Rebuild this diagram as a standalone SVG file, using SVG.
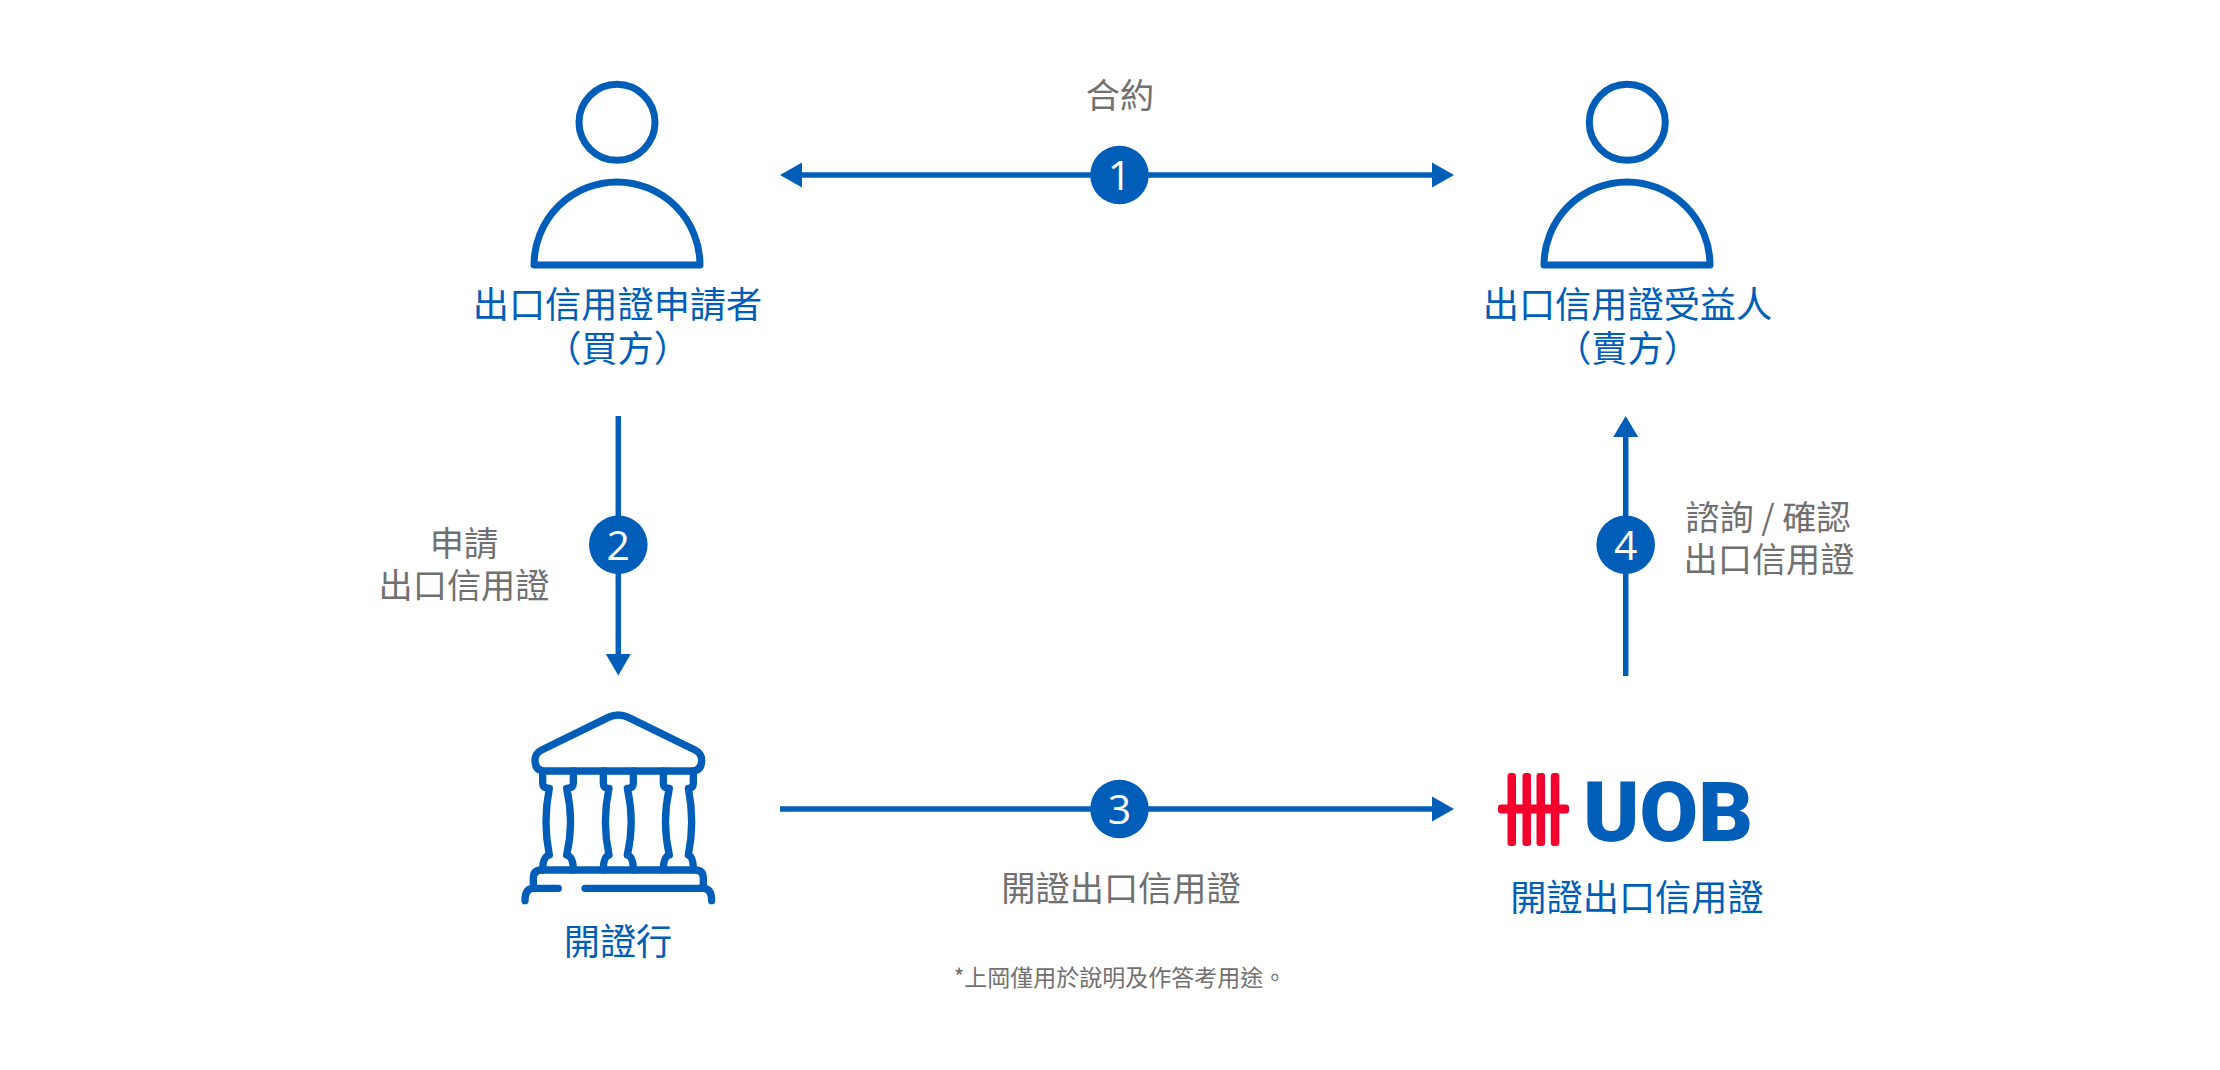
<svg xmlns="http://www.w3.org/2000/svg" width="2220" height="1070" viewBox="0 0 2220 1070">
<style>
text{font-family:"Noto Sans CJK TC","Noto Sans",sans-serif;text-anchor:middle;font-weight:400}
.b{fill:#005eb8;font-size:36.2px}
.g{fill:#707070;font-size:34.2px}
.n{fill:#fff;font-size:41px;font-family:"Open Sans","Noto Sans",sans-serif}
.i{fill:none;stroke:#005eb8;stroke-width:7;stroke-linejoin:round}
.c{fill:none;stroke:#005eb8;stroke-width:22;stroke-linecap:round;stroke-linejoin:round}
.l{stroke:#005eb8;stroke-width:5.5}
.o{fill:#005eb8}
.r{fill:#f5002d}
</style>
<rect width="2220" height="1070" fill="#fff"/>
<g id="connectors">
<line class="l" x1="795" y1="175" x2="1440" y2="175"/>
<polygon class="o" points="780,175 802,162.5 802,187.5"/>
<polygon class="o" points="1454,175 1432,162.5 1432,187.5"/>
<line class="l" x1="618.3" y1="416" x2="618.3" y2="660"/>
<polygon class="o" points="618.3,675.5 605.8,654 630.8,654"/>
<line class="l" x1="780" y1="809" x2="1440" y2="809"/>
<polygon class="o" points="1454,809 1432,796.5 1432,821.5"/>
<line class="l" x1="1625.7" y1="430" x2="1625.7" y2="676"/>
<polygon class="o" points="1625.7,416 1613.2,437 1638.2,437"/>
</g>
<g id="step1"><circle class="o" cx="1119.5" cy="175" r="29.3"/><text class="n" x="1119.5" y="190">1</text></g>
<g id="step2"><circle class="o" cx="618.3" cy="544.7" r="29.3"/><text class="n" x="618.3" y="559.5">2</text></g>
<g id="step3"><circle class="o" cx="1119.5" cy="809" r="29.3"/><text class="n" x="1119.5" y="824">3</text></g>
<g id="step4"><circle class="o" cx="1625.7" cy="544.7" r="29.3"/><text class="n" x="1625.7" y="559.5">4</text></g>
<g id="applicant">
<circle class="i" cx="617" cy="122.3" r="38"/>
<path class="i" d="M534 265A83 83 0 0 1 700 265Z"/>
<text class="b" x="617.5" y="318">出口信用證申請者</text>
<text class="b" x="617.5" y="362">（買方）</text>
</g>
<g id="beneficiary">
<circle class="i" cx="1627.3" cy="122.3" r="38"/>
<path class="i" d="M1544 265A83 83 0 0 1 1710 265Z"/>
<text class="b" x="1627.5" y="318">出口信用證受益人</text>
<text class="b" x="1627.5" y="362">（賣方）</text>
</g>
<g id="issuing-bank">
<g transform="translate(500 690) scale(.33333)">
<path class="c" d="M135 243Q105 243 105 210Q105 190 125 180L325 82Q355 68 385 82L585 180Q605 190 605 210Q605 243 575 243Z"/>
<path class="c" d="M128 243V280Q128 295 148 295C135 360 135 430 148 495Q128 500 128 540"/>
<path class="c" d="M220 243V280Q220 295 200 295C215 360 215 430 200 495Q220 500 220 540"/>
<path class="c" d="M310 243V280Q310 295 327 295C313 360 313 430 327 495Q310 500 310 540"/>
<path class="c" d="M400 243V280Q400 295 382 295C397 360 397 430 382 495Q400 500 400 540"/>
<path class="c" d="M490 243V280Q490 295 508 295C493 360 493 430 508 495Q490 500 490 540"/>
<path class="c" d="M580 243V280Q580 295 565 295C578 360 578 430 565 495Q580 500 580 540"/>
<path class="c" d="M100 590V565Q100 540 125 540H585Q610 540 610 565V590"/>
<path class="c" d="M175 595H100Q75 595 75 632M255 595H610Q635 595 635 632"/>
</g>
<text class="b" x="618" y="955">開證行</text>
</g>
<g id="uob">
<rect class="r" x="1507.5" y="773" width="8.5" height="73" rx="3"/>
<rect class="r" x="1522.5" y="773" width="8.5" height="73" rx="3"/>
<rect class="r" x="1536.5" y="773" width="8.5" height="73" rx="3"/>
<rect class="r" x="1550.8" y="773" width="8.5" height="73" rx="3"/>
<rect class="r" x="1498" y="804.5" width="71" height="9" rx="3"/>
<text x="1668" y="841" style="font-family:Roboto,'Liberation Sans',sans-serif;font-weight:900;font-size:84px;fill:#005eb8" textLength="170" lengthAdjust="spacingAndGlyphs">UOB</text>
<text class="b" x="1637" y="911">開證出口信用證</text>
</g>
<g id="labels">
<text class="g" x="1120" y="108">合約</text>
<text class="g" x="464" y="556">申請</text>
<text class="g" x="464" y="598">出口信用證</text>
<text class="g" x="1121" y="901">開證出口信用證</text>
<text class="g" x="1768" y="530">諮詢 / 確認</text>
<text class="g" x="1769" y="572">出口信用證</text>
<text x="1120" y="986" style="fill:#707070;font-size:23px">*上岡僅用於說明及作答考用途。</text>
</g>
</svg>
